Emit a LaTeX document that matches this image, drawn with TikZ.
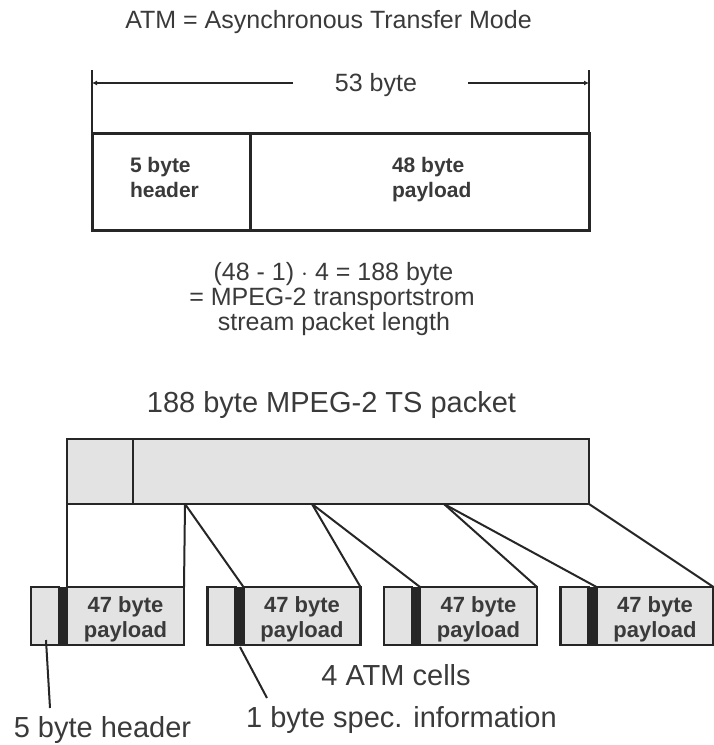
\documentclass[tikz,border=0pt]{standalone}
\usepackage{fontspec}
\setmainfont{Liberation Sans}
\usetikzlibrary{arrows.meta,calc}
\definecolor{ink}{HTML}{262626}
\definecolor{txt}{HTML}{3A3A3A}
\definecolor{fillg}{HTML}{E3E3E3}
\begin{document}
\begin{tikzpicture}[x=1pt,y=-1pt,
  lbl/.style={text=txt,inner sep=0,outer sep=0,anchor=base,font=\fontsize{25}{25}\selectfont},
  biglbl/.style={lbl,font=\fontsize{29}{29}\selectfont},
  boldlbl/.style={text=txt,inner sep=0,outer sep=0,anchor=base west,font=\fontsize{21}{21}\selectfont\bfseries},
  celltxt/.style={text=txt,inner sep=0,outer sep=0,anchor=base,font=\fontsize{22}{22}\selectfont\bfseries},
  whitebox/.style={draw=ink,line width=3pt,fill=white,inner sep=0,outer sep=0,anchor=north west},
  graybox/.style={draw=ink,line width=2.8pt,fill=fillg,inner sep=0,outer sep=0,anchor=north west},
  cellbox/.style={draw=ink,line width=2.4pt,fill=fillg,inner sep=0,outer sep=0,anchor=north west,minimum height=58pt},
  barbox/.style={draw=ink,line width=1pt,fill=ink,inner sep=0,outer sep=0,anchor=north west,minimum height=58pt,minimum width=8pt},
  conn/.style={draw=ink,line width=2pt},
  dimline/.style={draw=ink,line width=2pt,-{Latex[length=5pt,width=5pt]}}
]
\useasboundingbox (0,0) rectangle (714,745);

% title
\node[lbl] (title) at (328.5,28) {ATM = Asynchronous Transfer Mode};

% ATM cell box
\node[whitebox,minimum width=158pt,minimum height=97pt] (hdr) at (92,133) {};
\node[whitebox,minimum width=339pt,minimum height=97pt] (pay) at (250,133) {};
\coordinate (tl) at (92,70);
\coordinate (tr) at (589,70);
\draw[conn,line width=2.8pt] (tl) -- (hdr.north west);
\draw[conn,line width=2.8pt] (tr) -- (pay.north east);
\node[lbl] (dim) at (376,91) {53 byte};
\coordinate (dl) at (293,83);
\coordinate (dr) at (468,83);
\draw[dimline] (dl) -- (tl |- dl);
\draw[dimline] (dr) -- (tr |- dr);
\node[boldlbl] (hdrtxt1) at (130,172) {5 byte};
\node[boldlbl] (hdrtxt2) at (130,197) {header};
\node[boldlbl] (paytxt1) at (392,172) {48 byte};
\node[boldlbl] (paytxt2) at (392,197) {payload};

% formula
\node[lbl] (f1) at (333.5,280) {(48 - 1) $\cdot$ 4 = 188 byte};
\node[lbl] (f2) at (332,305) {= MPEG-2 transportstrom};
\node[lbl] (f3) at (334,330) {stream packet length};

% TS packet
\node[biglbl] (tstitle) at (331.5,412) {188 byte MPEG-2 TS packet};
\node[graybox,minimum width=522pt,minimum height=65pt] (ts) at (67,439) {};
\draw[conn,line width=2.8pt] (133,439) coordinate (tsd1) -- (133,504) coordinate (tsd2);

% ATM cells
\foreach \l [count=\i] in {31,207.5,384,560.5}{
  \node[cellbox,minimum width=28pt] (h\i) at (\l,587) {};
  \node[cellbox,minimum width=117pt] (p\i) at (\l+36,587) {};
  \node[barbox] (b\i) at (\l+28,587) {};
  \pgfmathsetmacro\cx{\l+94.5}
  \node[celltxt] (t\i a) at (\cx,612) {47 byte};
  \node[celltxt] (t\i b) at (\cx,637) {payload};
}

% connectors from TS packet to cells
\coordinate (s1) at (185,504);
\coordinate (s2) at (312,504);
\coordinate (s3) at (444,504);
\draw[conn] (ts.south west) -- (p1.north west);
\draw[conn] (s1) -- (p1.north east);
\draw[conn] (s1) -- (p2.north west);
\draw[conn] (s2) -- (p2.north east);
\draw[conn] (s2) -- (p3.north west);
\draw[conn] (s3) -- (p3.north east);
\draw[conn] (s3) -- (p4.north west);
\draw[conn] (ts.south east) -- (p4.north east);

% bottom labels
\node[biglbl] (cells) at (396,685) {4 ATM cells};
\node[biglbl] (hlab) at (102.5,737) {5 byte header};
\node[biglbl] (slab) at (401.5,727) {1 byte spec. information};
\coordinate (hl1) at (46,640);
\coordinate (hl2) at (50,708);
\coordinate (sl1) at (240,647);
\coordinate (sl2) at (267,698);
\draw[conn] (hl1) -- (hl2);
\draw[conn] (sl1) -- (sl2);
\end{tikzpicture}
\end{document}
